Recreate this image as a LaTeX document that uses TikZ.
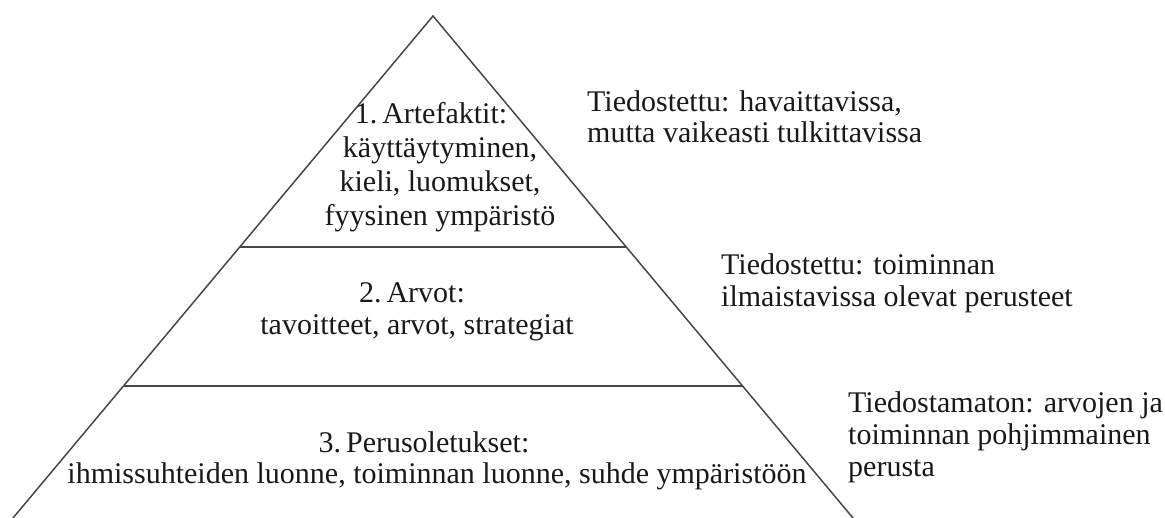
\documentclass[tikz,border=0pt]{standalone}
\usepackage{fontspec}
\setmainfont{Liberation Serif}
\usetikzlibrary{calc}
\tikzset{
  edge/.style={draw=black!72, line width=1.5pt, line cap=round, line join=miter},
  rule/.style={draw=black!72, line width=2pt},
  lbl/.style={inner sep=0pt, text=black!90},
  ctr/.style={lbl, align=center, anchor=base},
  side/.style={lbl, align=left, anchor=base west},
}
\newcommand{\fs}[1]{\fontsize{30}{#1}\selectfont}
\newcommand{\padr}[1]{\hspace*{#1}\null}
\begin{document}
\begin{tikzpicture}[x=1pt,y=-1pt]
\useasboundingbox (0,0) rectangle (1165,518);
\coordinate (apex) at (433,16);
\coordinate (bl) at (13,518);
\coordinate (br) at (853,518);
\coordinate (l1) at ($(apex)!0.4602!(bl)$);
\coordinate (r1) at ($(apex)!0.4602!(br)$);
\coordinate (l2) at ($(apex)!0.7371!(bl)$);
\coordinate (r2) at ($(apex)!0.7371!(br)$);
\draw[edge] (bl) -- (apex) -- (br);
\draw[rule] (l1) -- (r1);
\draw[rule] (l2) -- (r2);

\node[ctr, font=\fs{34.3}] (art) at (440,226) {1.\,Artefaktit:\padr{18pt}\\käyttäytyminen,\\kieli, luomukset,\\fyysinen ympäristö};
\node[ctr, font=\fs{32}] (arv) at (417,335) {2.\,Arvot:\padr{10pt}\\tavoitteet, arvot, strategiat};
\node[ctr, font=\fs{31}] (per) at (437,483) {3.\,Perusoletukset:\padr{26pt}\\ihmissuhteiden luonne, toiminnan luonne, suhde ympäristöön};

\node[side, font=\fs{31}] (t1) at (587,143) {Tiedostettu: havaittavissa,\\mutta vaikeasti tulkittavissa};
\node[side, font=\fs{32}] (t2) at (721,307) {Tiedostettu: toiminnan\\ilmaistavissa olevat perusteet};
\node[side, font=\fs{32}] (t3) at (848,476) {Tiedostamaton: arvojen ja\\toiminnan pohjimmainen\\perusta};
\end{tikzpicture}
\end{document}
